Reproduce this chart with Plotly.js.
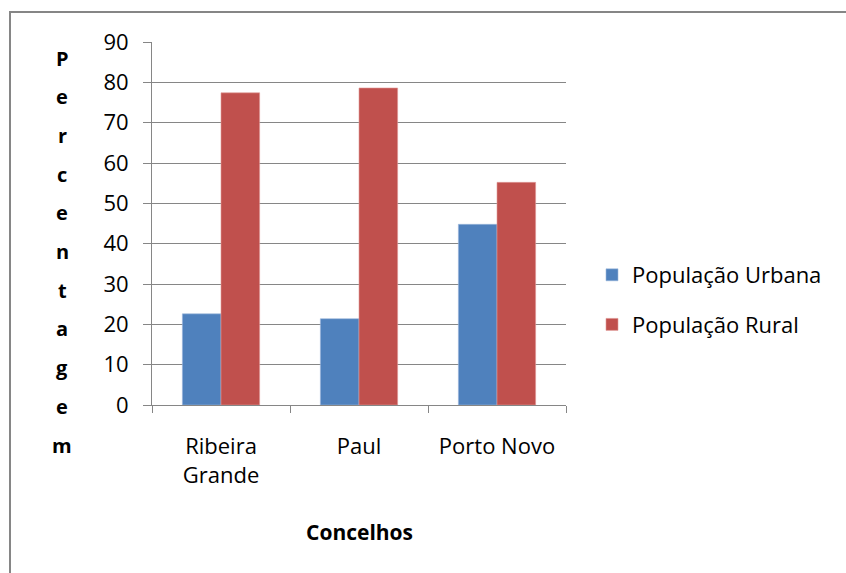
<!DOCTYPE html>
<html>
<head>
<meta charset="utf-8">
<script src="https://cdn.plot.ly/plotly-3.0.1.min.js"></script>
<style>
  html, body { margin: 0; padding: 0; background: #ffffff; }
  #chart { width: 846px; height: 573px; }
</style>
</head>
<body>
<div id="chart"></div>
<script>
// Urban vs rural population share per municipality (concelho)
const concelhos = ["Ribeira<br>Grande", "Paul", "Porto Novo"];
const urbana = [22.6, 21.4, 44.8];
const rural = [77.4, 78.6, 55.2];
const seriesNames = ["População Urbana", "População Rural"];
const yTicks = [0, 10, 20, 30, 40, 50, 60, 70, 80, 90];
const yTitleLetters = ["P", "e", "r", "c", "e", "n", "t", "a", "g", "e", "m"];

const FONT = "'Open Sans', Lato, sans-serif";
const W = 846, H = 573;
const M = { l: 152, r: 280, t: 42, b: 168 };
const plotW = W - M.l - M.r;
const plotH = H - M.t - M.b;

// pixel -> paper helpers for the frame and the stacked axis title
const px = x => (x - M.l) / plotW;
const py = y => (H - M.b - y) / plotH;

const traces = [
  {
    type: "bar", name: seriesNames[0], x: concelhos, y: urbana,
    marker: { color: "#4f81bd", line: { color: "#9db8dc", width: 0.6 } },
    legendgroup: "u", hoverinfo: "x+y+name"
  },
  {
    type: "bar", name: seriesNames[1], x: concelhos, y: rural,
    marker: { color: "#c0504d", line: { color: "#e09a98", width: 0.6 } },
    legendgroup: "r", hoverinfo: "x+y+name"
  }
];

const annotations = yTitleLetters.map((ch, i) => ({
  text: "<b>" + ch + "</b>",
  xref: "paper", yref: "paper",
  x: px(62), y: py(58 + i * 38.7),
  xanchor: "center", yanchor: "middle",
  showarrow: false,
  font: { family: FONT, size: 20, color: "#000000" }
}));

// axis title drawn as an annotation so it sits at a fixed spot below the labels
annotations.push({
  text: "<b>Concelhos</b>",
  xref: "paper", yref: "paper",
  x: 0.5, y: py(532),
  xanchor: "center", yanchor: "middle",
  showarrow: false,
  font: { family: FONT, size: 21, color: "#000000" }
});

const layout = {
  width: W, height: H,
  margin: M,
  paper_bgcolor: "#ffffff",
  plot_bgcolor: "#ffffff",
  font: { family: FONT, size: 22, color: "#000000" },
  barmode: "group",
  bargap: 0.44,
  bargroupgap: 0,
  showlegend: true,
  legend: {
    x: px(592), y: py(254), xanchor: "left", yanchor: "top",
    traceorder: "grouped", tracegroupgap: 18,
    font: { family: FONT, size: 22, color: "#000000" },
    itemwidth: 30
  },
  xaxis: {
    type: "category",
    showline: true, linecolor: "#868686", linewidth: 1,
    ticks: "outside", tickson: "boundaries", ticklen: 7, tickcolor: "#868686",
    ticklabelstandoff: 22,
    showgrid: false,
    tickfont: { family: FONT, size: 22, color: "#000000" }
  },
  yaxis: {
    range: [0, 90],
    tickvals: yTicks,
    showline: true, linecolor: "#868686", linewidth: 1,
    ticks: "outside", ticklen: 8, tickcolor: "#868686",
    ticklabelstandoff: 10,
    showgrid: true, gridcolor: "#868686", gridwidth: 1,
    zeroline: false,
    tickfont: { family: FONT, size: 22, color: "#000000" }
  },
  annotations: annotations,
  shapes: [
    {
      type: "rect", xref: "paper", yref: "paper",
      x0: px(10), x1: px(860), y0: py(590), y1: py(12),
      line: { color: "#868686", width: 2 }, fillcolor: "rgba(0,0,0,0)",
      layer: "below"
    }
  ]
};

Plotly.newPlot("chart", traces, layout, { displayModeBar: false, staticPlot: true });
</script>
</body>
</html>
